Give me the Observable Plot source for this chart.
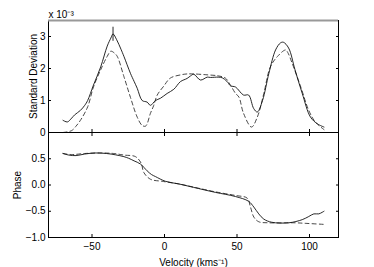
<!DOCTYPE html>
<html><head><meta charset="utf-8">
<script src="https://cdn.jsdelivr.net/npm/d3@7"></script>
<script src="https://cdn.jsdelivr.net/npm/@observablehq/plot@0.6"></script>
<style>
body{margin:0;background:#fff}
#c{position:relative;width:374px;height:267px}
#c svg{position:absolute;left:0;top:0}
</style></head><body><div id="c"></div>
<script>
// Velocity (km/s) and standard deviation (units of 1e-3)
const sdSolidV = [-70,-67,-64,-62,-58,-55,-53,-49,-44,-39.5,-37,-35.5,-33,-30,-28,-23.5,-21,-18.8,-15.4,-12,-9.7,-6.2,-2.8,1.8,6.4,11,15.6,18,20.2,24.8,29.5,31.7,37,39.8,43,45.5,49,54.5,58,61.5,64,67.6,72,76.6,80,82,85.6,90,95,100.7,105.5,110];
const sdSolidS = [0.38,0.33,0.45,0.55,0.69,0.85,1.0,1.48,2.05,2.7,2.95,3.08,2.9,2.6,2.38,1.85,1.6,1.38,1.0,0.95,0.85,1.0,1.07,1.22,1.35,1.59,1.69,1.77,1.82,1.64,1.73,1.72,1.73,1.71,1.6,1.46,1.42,1.17,1.17,0.75,0.64,1.0,1.85,2.58,2.8,2.82,2.64,1.96,1.22,0.48,0.27,0.17];
const sdDashV = [-70,-64,-61,-58,-53,-49,-44,-39.5,-37,-34.5,-32.6,-28,-23.5,-18.8,-15.4,-13,-9.7,-7.4,-5,-0.5,4,11,15.6,20,30,37,42,45.5,49,51.3,54.5,60,64,68.5,73,78,83.5,85,88,94,99.5,104,110];
const sdDashS = [0.0,0.06,0.2,0.38,0.8,1.42,1.96,2.38,2.54,2.48,2.38,1.75,1.1,0.48,0.22,0.2,0.6,0.85,1.17,1.45,1.7,1.8,1.83,1.83,1.8,1.77,1.7,1.48,1.22,1.11,0.6,0.17,0.48,1.22,2.05,2.38,2.58,2.5,2.17,1.42,0.69,0.33,0.09];
// error bar at the main peak
const errV = [-35.5], errLo = [2.85], errHi = [3.29];

// Phase
const phSolidV = [-70,-66,-61,-55,-47.6,-40,-33.8,-28,-24.8,-21,-16.6,-12,-9,-6.2,0.7,9.9,20,35,49,58,61.6,65,68.5,74,85.7,95,99.5,103,106.4,110];
const phSolidP = [0.6,0.57,0.56,0.59,0.61,0.6,0.575,0.54,0.51,0.46,0.4,0.27,0.2,0.16,0.07,0.02,-0.045,-0.14,-0.22,-0.31,-0.42,-0.55,-0.65,-0.71,-0.72,-0.66,-0.6,-0.55,-0.55,-0.5];
const phDashV = [-70,-64,-55,-44,-35,-28,-20,-16,-14.3,-9.7,-1.6,9.9,20,35,49,57,59.3,61.6,65,72,90,97,110];
const phDashP = [0.6,0.58,0.6,0.61,0.6,0.57,0.54,0.41,0.24,0.11,0.07,0.02,-0.04,-0.13,-0.2,-0.25,-0.42,-0.61,-0.7,-0.72,-0.72,-0.73,-0.75];

const xDomain = [-80, 120];
const xTicks = [-50, 0, 50, 100];
const sdDomain = [0, 3.5];
const sdTicks = [0, 1, 2, 3];
const phDomain = [-1, 1];
const phTicks = [-1, -0.5, 0, 0.5];

const zip = (a, b) => a.map((v, i) => ({x: v, y: b[i]}));
const W = 374, H = 267;
const font = "Liberation Sans, Arial, Helvetica, sans-serif";
const style = {background: "transparent", fontFamily: font, fontSize: "10px", color: "black", overflow: "visible"};
const solidOpts = {x: "x", y: "y", stroke: "#111", strokeWidth: 0.9, curve: "catmull-rom"};
const dashOpts = {x: "x", y: "y", stroke: "#333", strokeWidth: 0.9, strokeDasharray: "4,3", curve: "catmull-rom"};

const topPlot = Plot.plot({
  width: W, height: H, marginLeft: 48, marginRight: 36, marginTop: 20, marginBottom: 135,
  style,
  x: {domain: xDomain},
  y: {domain: sdDomain},
  marks: [
    Plot.axisY({ticks: sdTicks, tickSize: -3, tickPadding: 6, tickFormat: d => String(d),
      label: "Standard Deviation", labelAnchor: "center", labelArrow: "none", labelOffset: 19}),
    Plot.axisY({anchor: "right", ticks: sdTicks, tickSize: -3, tickFormat: () => "", label: null}),
    Plot.axisX({ticks: xTicks, tickSize: -3, tickFormat: () => "", label: null}),
    Plot.ruleX(xDomain, {stroke: "black"}),
    Plot.ruleY([sdDomain[0]], {stroke: "black"}),
    Plot.ruleY([sdDomain[1]], {stroke: "#999", strokeWidth: 2}),
    Plot.line(zip(sdDashV, sdDashS), dashOpts),
    Plot.line(zip(sdSolidV, sdSolidS), solidOpts),
    Plot.ruleX(errV.map((v, i) => ({x: v, lo: errLo[i], hi: errHi[i]})), {x: "x", y1: "lo", y2: "hi", stroke: "#111", strokeWidth: 0.9}),
    Plot.text(["x 10⁻³"], {frameAnchor: "top-left", text: d => d, textAnchor: "start", lineAnchor: "bottom", dy: -3, fontSize: 10})
  ]
});

const botPlot = Plot.plot({
  width: W, height: H, marginLeft: 48, marginRight: 36, marginTop: 132, marginBottom: 30,
  style,
  x: {domain: xDomain},
  y: {domain: phDomain},
  marks: [
    Plot.axisY({ticks: phTicks, tickSize: -3, tickPadding: 6,
      label: "Phase", labelAnchor: "center", labelArrow: "none", labelOffset: 35}),
    Plot.axisY({anchor: "right", ticks: phTicks, tickSize: -3, tickFormat: () => "", label: null}),
    Plot.axisX({ticks: xTicks, tickSize: -3, tickPadding: 8,
      label: "Velocity (kms⁻¹)", labelAnchor: "center", labelArrow: "none", labelOffset: 28}),
    Plot.axisX({anchor: "top", ticks: xTicks, tickSize: -3, tickFormat: () => "", label: null}),
    Plot.frame({stroke: "black"}),
    Plot.line(zip(phDashV, phDashP), dashOpts),
    Plot.line(zip(phSolidV, phSolidP), solidOpts)
  ]
});

const c = document.getElementById("c");
c.appendChild(topPlot);
c.appendChild(botPlot);
</script>
</body></html>
